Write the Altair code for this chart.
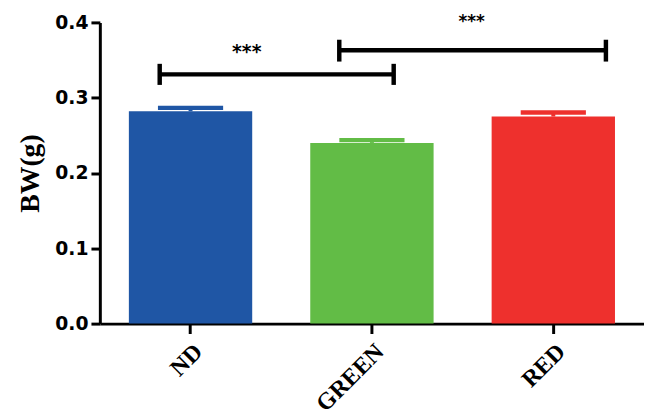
import altair as alt
import pandas as pd

# ---- data ----
categories = ["ND", "GREEN", "RED"]
means = [0.282, 0.240, 0.275]
err_tops = [0.2865, 0.2437, 0.2803]
colors = ["#1F56A5", "#62BC46", "#EE302D"]

# significance brackets (positions on a 0..3 group axis)
bracket_x1 = [0.33, 1.32]
bracket_x2 = [1.62, 2.79]
bracket_y = [0.331, 0.363]
bracket_lo = [0.317, 0.348]
bracket_hi = [0.345, 0.377]
star_x = [0.81, 2.05]
star_y = [0.360, 0.401]
star_text = ["***", "***"]
star_size = [19, 17]

bars_df = pd.DataFrame({"group": categories, "mean": means, "err": err_tops, "color": colors})
br_df = pd.DataFrame({"x1": bracket_x1, "x2": bracket_x2, "y": bracket_y, "lo": bracket_lo, "hi": bracket_hi})
ends_df = pd.DataFrame({"x": bracket_x1 + bracket_x2, "lo": bracket_lo * 2, "hi": bracket_hi * 2})
star_df = pd.DataFrame({"x": star_x, "y": star_y, "t": star_text, "s": star_size})

yscale = alt.Scale(domain=[0, 0.4], nice=False)
xband = alt.Scale(domain=categories, paddingInner=0.32, paddingOuter=0.16)
xq = alt.Scale(domain=[0, 3], nice=False, zero=False)
ytitle = "BW(g)"

base = alt.Chart(bars_df)
bars = base.mark_bar().encode(
    x=alt.X("group:N", scale=xband, sort=categories, title=None),
    y=alt.Y("mean:Q", scale=yscale, title=ytitle,
            axis=alt.Axis(values=[0, 0.1, 0.2, 0.3, 0.4], format=".1f")),
    color=alt.Color("color:N", scale=None),
)
stems = base.mark_rule(strokeWidth=4).encode(
    x=alt.X("group:N", scale=xband, sort=categories, title=None),
    y=alt.Y("mean:Q", scale=yscale, title=ytitle),
    y2="err:Q",
    color=alt.Color("color:N", scale=None),
)
caps = base.mark_tick(size=66, thickness=4.5, opacity=1).encode(
    x=alt.X("group:N", scale=xband, sort=categories, title=None),
    y=alt.Y("err:Q", scale=yscale, title=ytitle),
    color=alt.Color("color:N", scale=None),
)
main = alt.layer(bars, stems, caps)

hlines = alt.Chart(br_df).mark_rule(strokeWidth=4.5, color="black").encode(
    x=alt.X("x1:Q", scale=xq, axis=None),
    x2="x2:Q",
    y=alt.Y("y:Q", scale=yscale, title=ytitle),
)
vlines = alt.Chart(ends_df).mark_rule(strokeWidth=4.5, color="black").encode(
    x=alt.X("x:Q", scale=xq, axis=None),
    y=alt.Y("lo:Q", scale=yscale, title=ytitle),
    y2="hi:Q",
)
stars = alt.Chart(star_df).mark_text(
    font="DejaVu Sans", fontWeight="bold", color="black", baseline="middle", align="center"
).encode(
    x=alt.X("x:Q", scale=xq, axis=None),
    y=alt.Y("y:Q", scale=yscale, title=ytitle),
    text="t:N",
    size=alt.Size("s:Q", scale=None),
)
annot = alt.layer(hlines, vlines, stars)

chart = alt.layer(main, annot).resolve_scale(x="independent").properties(
    width=551, height=305,
    autosize=alt.AutoSizeParams(type="none"),
    padding={"left": 93, "top": 12, "right": 0, "bottom": 95},
).configure_view(stroke=None).configure_axis(
    grid=False, domainColor="black", tickColor="black", labelColor="black", titleColor="black",
).configure_axisX(
    domainWidth=3, tickWidth=3, tickSize=10, labelAngle=-45,
    labelFont="Liberation Serif", labelFontWeight="bold", labelFontSize=24,
    labelAlign="right", labelBaseline="top", labelPadding=6,
).configure_axisY(
    domainWidth=3, tickWidth=3, tickSize=9, labelPadding=3,
    labelFont="DejaVu Sans", labelFontWeight="bold", labelFontSize=19,
    titleFont="Liberation Serif", titleFontWeight="bold", titleFontSize=28, titlePadding=10,
)

chart.save("out.html", embed_options={"renderer": "svg", "actions": False})
